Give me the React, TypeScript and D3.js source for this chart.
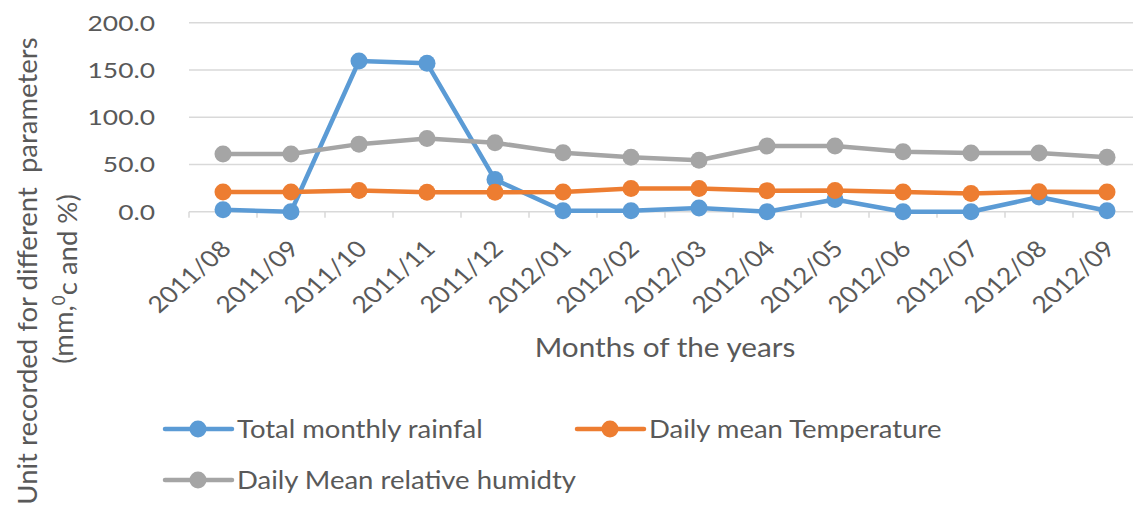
import React from "react";
import { scaleBand, scaleLinear, line } from "d3";

const months = [
  "2011/08", "2011/09", "2011/10", "2011/11", "2011/12", "2012/01", "2012/02",
  "2012/03", "2012/04", "2012/05", "2012/06", "2012/07", "2012/08", "2012/09",
];
const rainfall = [2, 0, 159.5, 157, 34, 1, 1, 4, 0, 13, 0, 0, 15.5, 1];
const temperature = [20.8, 20.8, 22.5, 20.5, 20.5, 20.8, 24.5, 24.5, 22.3, 22.5, 20.8, 19.3, 21.2, 20.8];
const humidity = [61, 61, 71.5, 77.5, 73, 62.5, 57.5, 54.5, 69.5, 69.5, 63.5, 62, 62, 57.5];
const yTicks = [0, 50, 100, 150, 200];

const series = [
  { name: "Total monthly rainfal", values: rainfall, color: "#5B9BD5" },
  { name: "Daily mean Temperature", values: temperature, color: "#ED7D31" },
  { name: "Daily Mean relative humidty", values: humidity, color: "#A5A5A5" },
];

const font = "Lato, 'Open Sans', sans-serif";
const textColor = "#595959";
const plot = { left: 189, top: 22.7, bottom: 211.7, band: 68 };

export default function App() {
  const width = 1133;
  const height = 508;

  const x = scaleBand<string>()
    .domain(months)
    .range([plot.left, plot.left + plot.band * months.length]);
  const y = scaleLinear().domain([0, 200]).range([plot.bottom, plot.top]);
  const cx = (m: string) => (x(m) as number) + x.bandwidth() / 2;

  const path = line<number>()
    .x((_, i) => cx(months[i]))
    .y((d) => y(d));

  // legend slots: line start, row centre
  const legend = [
    { x: 165, y: 429 },
    { x: 577, y: 429 },
    { x: 165, y: 480 },
  ];

  return (
    <svg
      width={width}
      height={height}
      style={{ position: "absolute", left: 0, top: 0, background: "#fff" }}
      fontFamily={font}
    >
      {/* gridlines + y tick labels */}
      {yTicks.map((t) => (
        <g key={t}>
          <line x1={plot.left} x2={width} y1={y(t)} y2={y(t)} stroke="#D9D9D9" strokeWidth={1.5} />
          <text
            transform={`translate(155,${y(t)}) scale(1.2,1)`}
            dy="0.36em"
            textAnchor="end"
            fontSize={22}
            fill={textColor}
          >
            {t.toFixed(1)}
          </text>
        </g>
      ))}

      {/* x ticks */}
      {months.map((m) => (
        <line
          key={"t" + m}
          x1={x(m) as number}
          x2={x(m) as number}
          y1={y(0)}
          y2={y(0) + 6}
          stroke="#D9D9D9"
          strokeWidth={1.5}
        />
      ))}
      {months.map((m) => (
        <text
          key={"l" + m}
          transform={`translate(${cx(m) + 3},${y(0) + 33}) scale(1.15,1) rotate(-45)`}
          textAnchor="end"
          dy="0.35em"
          fontSize={23}
          fill={textColor}
        >
          {m}
        </text>
      ))}

      {/* series */}
      {series.map((s) => (
        <g key={s.name}>
          <path d={path(s.values) as string} fill="none" stroke={s.color} strokeWidth={4.5} strokeLinejoin="round" />
          {s.values.map((v, i) => (
            <circle key={i} cx={cx(months[i])} cy={y(v)} r={8.5} fill={s.color} />
          ))}
        </g>
      ))}

      {/* axis titles */}
      <text
        transform="translate(665,348) scale(1.1,1)"
        dy="0.35em"
        textAnchor="middle"
        fontSize={27}
        fill={textColor}
      >
        Months of the years
      </text>
      <text
        transform="translate(27,271) rotate(-90)"
        textAnchor="middle"
        dy="0.35em"
        fontSize={27.5}
        fill={textColor}
      >
        Unit recorded for different{"\u00a0 "}parameters
      </text>
      <text
        transform="translate(63,279) rotate(-90)"
        textAnchor="middle"
        dy="0.35em"
        fontSize={27.5}
        fill={textColor}
      >
        (mm,<tspan dy="-0.45em" fontSize={17}>0</tspan>
        <tspan dy="0.45em">c and %)</tspan>
      </text>

      {/* legend */}
      {series.map((s, i) => (
        <g key={"lg" + s.name} transform={`translate(${legend[i].x},${legend[i].y})`}>
          <line x1={0} x2={67} y1={0} y2={0} stroke={s.color} strokeWidth={4.5} strokeLinecap="round" />
          <circle cx={33} cy={0} r={8.5} fill={s.color} />
          <text transform="translate(72,0) scale(1.1,1)" dy="0.35em" fontSize={25} fill={textColor}>
            {s.name}
          </text>
        </g>
      ))}
    </svg>
  );
}
